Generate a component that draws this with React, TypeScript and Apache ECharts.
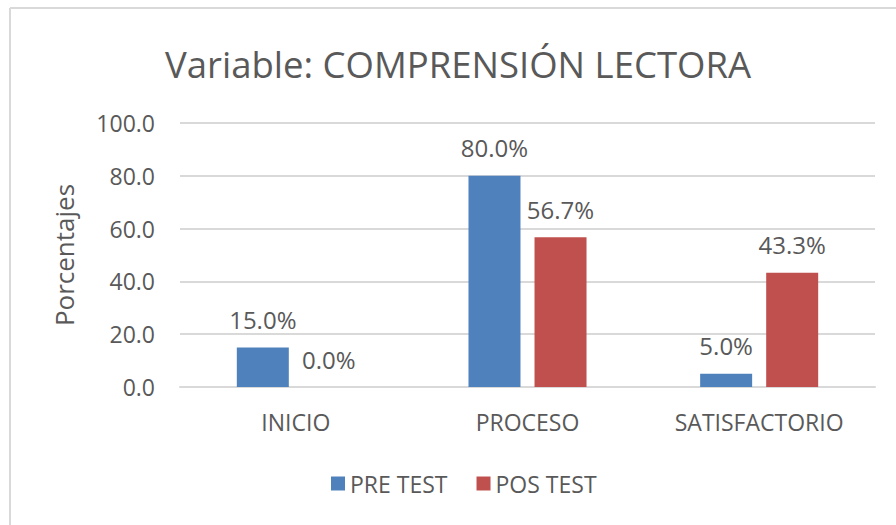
import React, { useEffect, useRef } from "react";
import * as echarts from "echarts";

const categories = ["INICIO", "PROCESO", "SATISFACTORIO"];
const preTest = [15.0, 80.0, 5.0];
const posTest = [0.0, 56.7, 43.3];
const seriesNames = ["PRE TEST", "POS TEST"];
const titleText = "Variable: COMPRENSIÓN LECTORA";
const yAxisName = "Porcentajes";

const FONT = "'Open Sans', 'Noto Sans', sans-serif";
const TXT = "#595959";

export default function App() {
  const ref = useRef<HTMLDivElement>(null);
  useEffect(() => {
    if (!ref.current) return;
    const chart = echarts.init(ref.current, undefined, { renderer: "svg" });
    const labelCfg = {
      show: true,
      position: "top" as const,
      distance: 16,
      color: TXT,
      fontSize: 24,
      fontFamily: FONT,
      formatter: (p: any) => Number(p.value).toFixed(1) + "%",
    };
    chart.setOption({
      animation: false,
      backgroundColor: "#ffffff",
      textStyle: { fontFamily: FONT },
      title: {
        text: titleText,
        left: 160,
        top: 40,
        textStyle: { color: TXT, fontSize: 36.5, fontWeight: "normal", fontFamily: FONT },
      },
      graphic: [
        { type: "line", shape: { x1: 10, y1: 8, x2: 896, y2: 8 }, style: { stroke: "#d9d9d9", lineWidth: 2 } },
        { type: "line", shape: { x1: 10, y1: 8, x2: 10, y2: 525 }, style: { stroke: "#d9d9d9", lineWidth: 2 } },
      ],
      legend: {
        data: seriesNames,
        bottom: 25,
        left: 326,
        itemWidth: 14,
        itemHeight: 14,
        itemGap: 29,
        icon: "rect",
        textStyle: { color: TXT, fontSize: 23, fontFamily: FONT },
      },
      grid: { left: 180, right: 21, top: 123, bottom: 138 },
      xAxis: {
        type: "category",
        data: categories,
        axisLine: { lineStyle: { color: "#d9d9d9", width: 2 } },
        axisTick: { show: false },
        axisLabel: { color: TXT, fontSize: 23, fontFamily: FONT, margin: 23 },
      },
      yAxis: {
        type: "value",
        min: 0,
        max: 100,
        interval: 20,
        name: yAxisName,
        nameLocation: "middle",
        nameGap: 103,
        nameTextStyle: { color: TXT, fontSize: 26, fontFamily: FONT },
        axisLine: { show: false },
        axisTick: { show: false },
        axisLabel: { color: TXT, fontSize: 23, fontFamily: FONT, margin: 25, formatter: (v: number) => v.toFixed(1) },
        splitLine: { lineStyle: { color: "#d9d9d9", width: 2 } },
      },
      series: [
        {
          name: seriesNames[0],
          type: "bar",
          data: preTest,
          barWidth: 52,
          barGap: "27%",
          itemStyle: { color: "#4f81bd" },
          label: labelCfg,
        },
        {
          name: seriesNames[1],
          type: "bar",
          data: posTest,
          barWidth: 52,
          barGap: "27%",
          itemStyle: { color: "#c0504d" },
          label: labelCfg,
        },
      ],
    });
    return () => chart.dispose();
  }, []);
  return (
    <div
      ref={ref}
      style={{ position: "fixed", left: 0, top: 0, width: 896, height: 525 }}
    />
  );
}
